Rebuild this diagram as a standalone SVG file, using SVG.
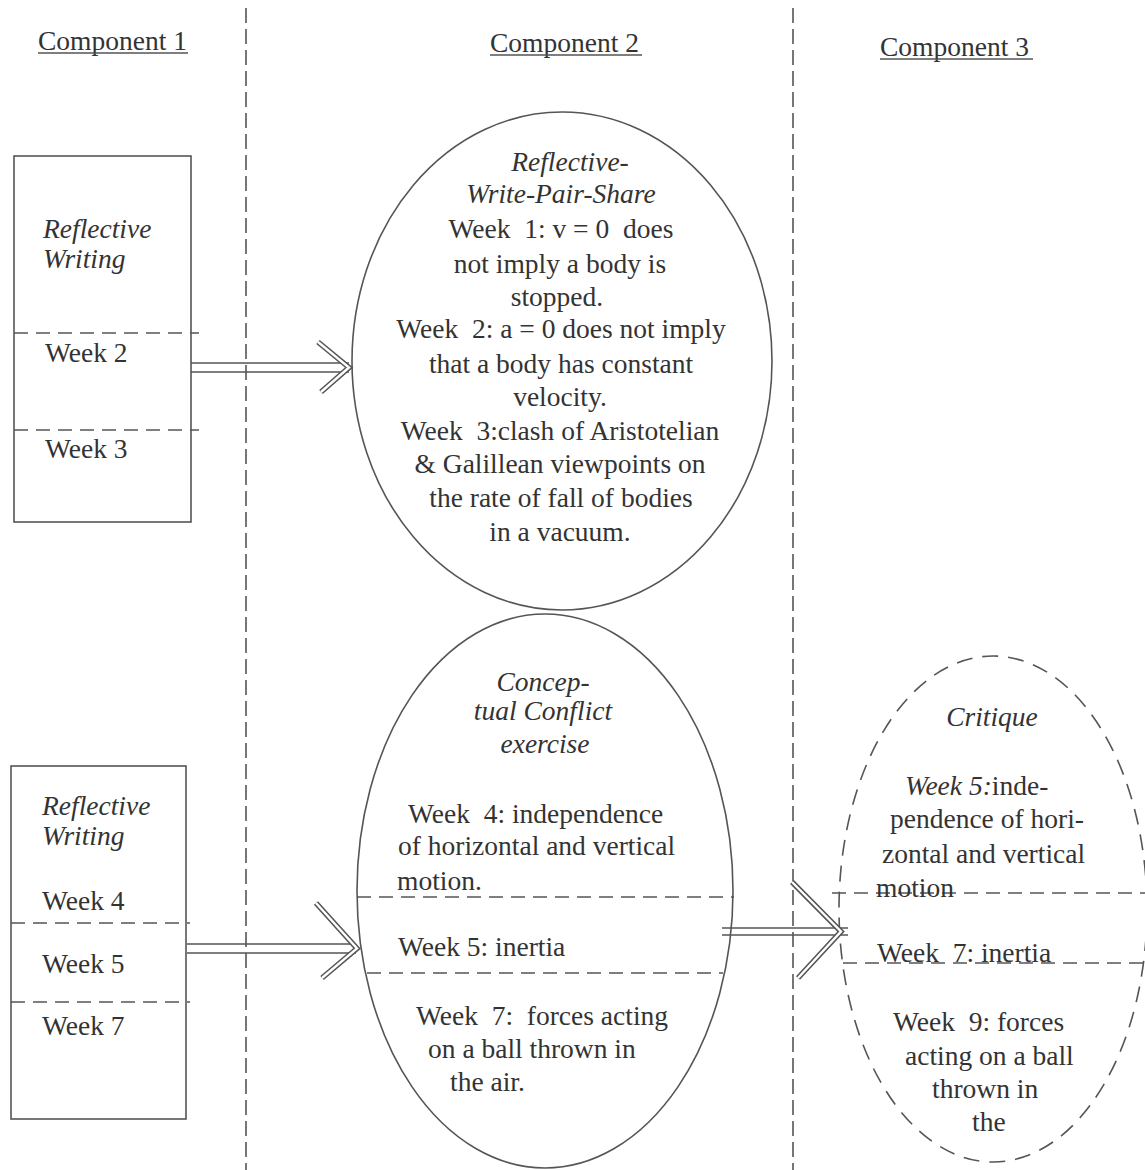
<svg xmlns="http://www.w3.org/2000/svg" width="1145" height="1170" viewBox="0 0 1145 1170" font-family="'Liberation Serif', 'Times New Roman', serif">
<style>
text{font-family:'Liberation Serif','Times New Roman',serif;font-size:27.5px;fill:#333;white-space:pre}
.i{font-style:italic}
.m{text-anchor:middle}
.ln{stroke:#555;stroke-width:1.6;fill:none}
.dash{stroke:#555;stroke-width:1.6;fill:none;stroke-dasharray:14 8}
.div{stroke:#555;stroke-width:1.6;fill:none;stroke-dasharray:15 6}
.ah{stroke:#555;stroke-width:5.5;fill:none;stroke-linejoin:miter}
.ahw{stroke:#fff;stroke-width:2.4;fill:none;stroke-linejoin:miter}
</style>
<rect width="1145" height="1170" fill="#fff"/>
<g id="dividers">
<line class="div" x1="246" y1="8" x2="246" y2="1170"/>
<line class="div" x1="793" y1="8" x2="793" y2="1170"/>
</g>
<g id="headers">
<text x="38" y="50">Component 1</text>
<line class="ln" x1="38" y1="53" x2="188" y2="53"/>
<text x="490" y="52">Component 2</text>
<line class="ln" x1="490" y1="55" x2="642" y2="55"/>
<text x="880" y="56">Component 3</text>
<line class="ln" x1="880" y1="59" x2="1033" y2="59"/>
</g>
<g id="box1">
<rect class="ln" x="14" y="156" width="177" height="366"/>
<line class="dash" x1="14" y1="333" x2="199" y2="333"/>
<line class="dash" x1="14" y1="430" x2="199" y2="430"/>
<text class="i" x="43" y="238">Reflective</text>
<text class="i" x="43" y="268">Writing</text>
<text x="45" y="362">Week 2</text>
<text x="45" y="458">Week 3</text>
</g>
<g id="box2">
<rect class="ln" x="11" y="766" width="175" height="353"/>
<line class="dash" x1="11" y1="923" x2="190" y2="923"/>
<line class="dash" x1="11" y1="1002" x2="190" y2="1002"/>
<text class="i" x="42" y="815">Reflective</text>
<text class="i" x="42" y="845">Writing</text>
<text x="42" y="910">Week 4</text>
<text x="42" y="973">Week 5</text>
<text x="42" y="1035">Week 7</text>
</g>
<g id="ellipse1">
<ellipse class="ln" cx="562" cy="361" rx="210" ry="249"/>
<text class="i m" x="570" y="171">Reflective-</text>
<text class="i m" x="561" y="203">Write-Pair-Share</text>
<text class="m" x="561" y="238">Week  1: v = 0  does</text>
<text class="m" x="560" y="273">not imply a body is</text>
<text class="m" x="557" y="306">stopped.</text>
<text class="m" x="561" y="338">Week  2: a = 0 does not imply</text>
<text class="m" x="561" y="373">that a body has constant</text>
<text class="m" x="560" y="406">velocity.</text>
<text class="m" x="560" y="440">Week  3:clash of Aristotelian</text>
<text class="m" x="560" y="473">&amp; Galillean viewpoints on</text>
<text class="m" x="561" y="507">the rate of fall of bodies</text>
<text class="m" x="560" y="541">in a vacuum.</text>
</g>
<g id="ellipse2">
<ellipse class="ln" cx="545" cy="891" rx="188" ry="277"/>
<line class="dash" x1="357" y1="897" x2="734" y2="897"/>
<line class="dash" x1="367" y1="973" x2="723" y2="973"/>
<text class="i m" x="543" y="691">Concep-</text>
<text class="i m" x="543" y="720">tual Conflict</text>
<text class="i m" x="545" y="753">exercise</text>
<text x="408" y="823">Week  4: independence</text>
<text x="398" y="855">of horizontal and vertical</text>
<text x="397" y="890">motion.</text>
<text x="398" y="956">Week 5: inertia</text>
<text x="416" y="1025">Week  7:  forces acting</text>
<text x="428" y="1058">on a ball thrown in</text>
<text x="450" y="1091">the air.</text>
</g>
<g id="ellipse3">
<ellipse cx="993" cy="909" rx="154" ry="253" fill="none" stroke="#555" stroke-width="1.6" stroke-dasharray="16 10"/>
<line class="dash" x1="832" y1="893" x2="1145" y2="893"/>
<line class="dash" x1="843" y1="963" x2="1145" y2="963"/>
<text class="i m" x="992" y="726">Critique</text>
<text x="905" y="795"><tspan class="i">Week 5:</tspan>inde-</text>
<text x="890" y="828">pendence of hori-</text>
<text x="882" y="863">zontal and vertical</text>
<text x="876" y="897">motion</text>
<text x="877" y="962">Week  7: inertia</text>
<text x="893" y="1031">Week  9: forces</text>
<text x="905" y="1065">acting on a ball</text>
<text x="932" y="1098">thrown in</text>
<text x="972" y="1131">the</text>
</g>
<g id="connectors">
<line class="ln" x1="191" y1="363" x2="349" y2="363"/>
<line class="ln" x1="191" y1="372" x2="349" y2="372"/>
<path class="ah" d="M318,342 L349,367.5 L321,392"/>
<path class="ahw" d="M318,342 L349,367.5 L321,392"/>
<line class="ln" x1="187" y1="944" x2="356" y2="944"/>
<line class="ln" x1="187" y1="953" x2="356" y2="953"/>
<path class="ah" d="M316,903 L357,948.5 L322,978"/>
<path class="ahw" d="M316,903 L357,948.5 L322,978"/>
<line class="ln" x1="722" y1="928" x2="848" y2="928"/>
<line class="ln" x1="722" y1="935" x2="848" y2="935"/>
<path class="ah" d="M792,882 L841,931.5 L798,978"/>
<path class="ahw" d="M792,882 L841,931.5 L798,978"/>
</g>
</svg>
